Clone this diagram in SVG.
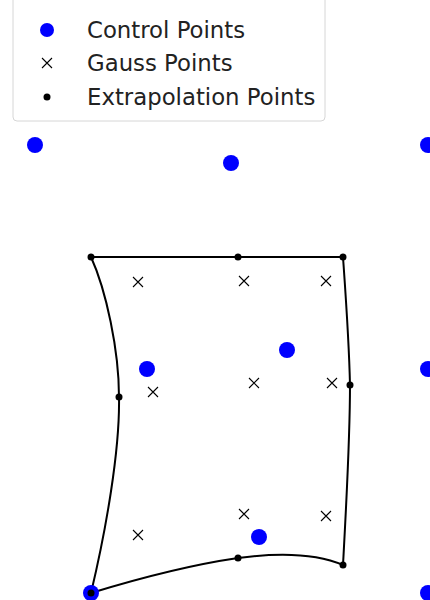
<svg xmlns="http://www.w3.org/2000/svg" width="430" height="600" viewBox="0 0 430 600">
<style>
.cp{fill:#0000ff}
.ep{fill:#000}
.gp{stroke:#000;stroke-width:1.1;fill:none}
.edge{stroke:#000;stroke-width:2;fill:none;stroke-linecap:round}
.lt{font-family:"DejaVu Sans",sans-serif;font-size:22.8px;fill:#222}
</style>
<defs>
<g id="x"><path class="gp" d="M-5,-5L5,5M-5,5L5,-5"/></g>
</defs>
<rect width="430" height="600" fill="#fff"/>
<g id="legend">
<rect x="13" y="-6" width="312" height="127" rx="4" fill="#fff" stroke="#d6d6d6" stroke-width="1"/>
<circle class="cp" cx="47" cy="30" r="7"/>
<text class="lt" x="87" y="38">Control Points</text>
<use href="#x" x="47" y="63"/>
<text class="lt" x="87" y="71">Gauss Points</text>
<circle class="ep" cx="47" cy="97" r="3.5"/>
<text class="lt" x="87" y="105">Extrapolation Points</text>
</g>
<g id="connectors">
<path class="edge" d="M91,257L343,257"/>
<path class="edge" d="M91,257C106,290 119,350 119,397C120,450 106,530 91,593"/>
<path class="edge" d="M343,257C346,300 349,340 350,385C350,440 346,510 343,565"/>
<path class="edge" d="M91,593C140,578 190,565 238,558C275,553 315,553 343,565"/>
</g>
<g id="control-points">
<circle class="cp" cx="35" cy="145" r="8"/>
<circle class="cp" cx="231" cy="163" r="8"/>
<circle class="cp" cx="428" cy="145" r="8"/>
<circle class="cp" cx="147" cy="369" r="8"/>
<circle class="cp" cx="287" cy="350" r="8"/>
<circle class="cp" cx="428" cy="369" r="8"/>
<circle class="cp" cx="259" cy="537" r="8"/>
<circle class="cp" cx="91" cy="593" r="8"/>
<circle class="cp" cx="428" cy="593" r="8"/>
</g>
<g id="gauss-points">
<use href="#x" x="138" y="282"/>
<use href="#x" x="244" y="281"/>
<use href="#x" x="326" y="281"/>
<use href="#x" x="153" y="392"/>
<use href="#x" x="254" y="383"/>
<use href="#x" x="332" y="383"/>
<use href="#x" x="138" y="535"/>
<use href="#x" x="244" y="514"/>
<use href="#x" x="326" y="516"/>
</g>
<g id="extrapolation-points">
<circle class="ep" cx="91" cy="257" r="3.5"/>
<circle class="ep" cx="238" cy="257" r="3.5"/>
<circle class="ep" cx="343" cy="257" r="3.5"/>
<circle class="ep" cx="119" cy="397" r="3.5"/>
<circle class="ep" cx="350" cy="385" r="3.5"/>
<circle class="ep" cx="91" cy="593" r="3.5"/>
<circle class="ep" cx="238" cy="558" r="3.5"/>
<circle class="ep" cx="343" cy="565" r="3.5"/>
</g>
</svg>
